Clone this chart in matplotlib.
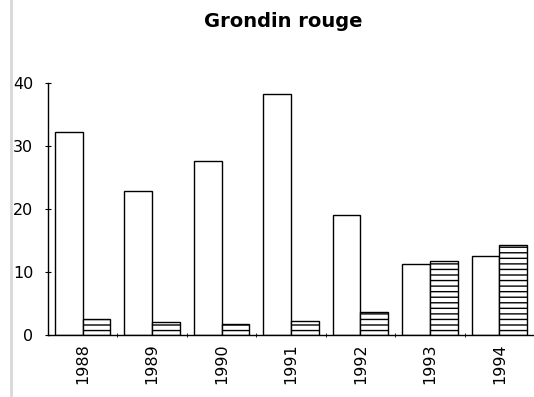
import numpy as np
import matplotlib.pyplot as plt
from matplotlib.lines import Line2D

plt.rcParams['font.family'] = ['DejaVu Sans']
plt.rcParams['hatch.linewidth'] = 1.0

# data
years = ['1988', '1989', '1990', '1991', '1992', '1993', '1994']
plain = [32.2, 22.9, 27.6, 38.3, 19.0, 11.3, 12.5]
hatched = [2.5, 2.0, 1.7, 2.3, 3.7, 11.7, 14.3]

fig = plt.figure(figsize=(5.34, 3.97), dpi=100)
ax = fig.add_axes([0.0899, 0.156, 0.9101, 0.635])

x = np.arange(len(years))
w = 0.4
ax.bar(x - w / 2, plain, width=w, color='white', edgecolor='black', linewidth=1.0)
ax.bar(x + w / 2, hatched, width=w, color='white', edgecolor='black',
       linewidth=1.0, hatch='---')

ax.set_xlim(-0.5, len(years) - 0.5)
ax.set_ylim(0, 40)
ax.set_yticks([0, 10, 20, 30, 40])
ax.set_xticks(x)
ax.set_xticklabels(years, rotation=90, fontsize=11.5)
ax.set_xticks(x[:-1] + 0.5, minor=True)
ax.tick_params(axis='x', which='major', length=0, pad=6)
ax.tick_params(axis='x', which='minor', length=3, direction='inout')
ax.tick_params(axis='y', labelsize=11.5, length=5, direction='inout', pad=8)

for s in ['top', 'right']:
    ax.spines[s].set_visible(False)
ax.spines['left'].set_linewidth(1.0)
ax.spines['bottom'].set_linewidth(1.0)

fig.text(0.53, 0.945, 'Grondin rouge', ha='center', va='center',
         fontsize=14, fontweight='bold')

# faint edge of the scanned page
fig.add_artist(Line2D([0.02, 0.02], [0.0, 1.0], transform=fig.transFigure,
                      color='#d8d8d8', linewidth=2))

plt.savefig('out.png', dpi=100)
